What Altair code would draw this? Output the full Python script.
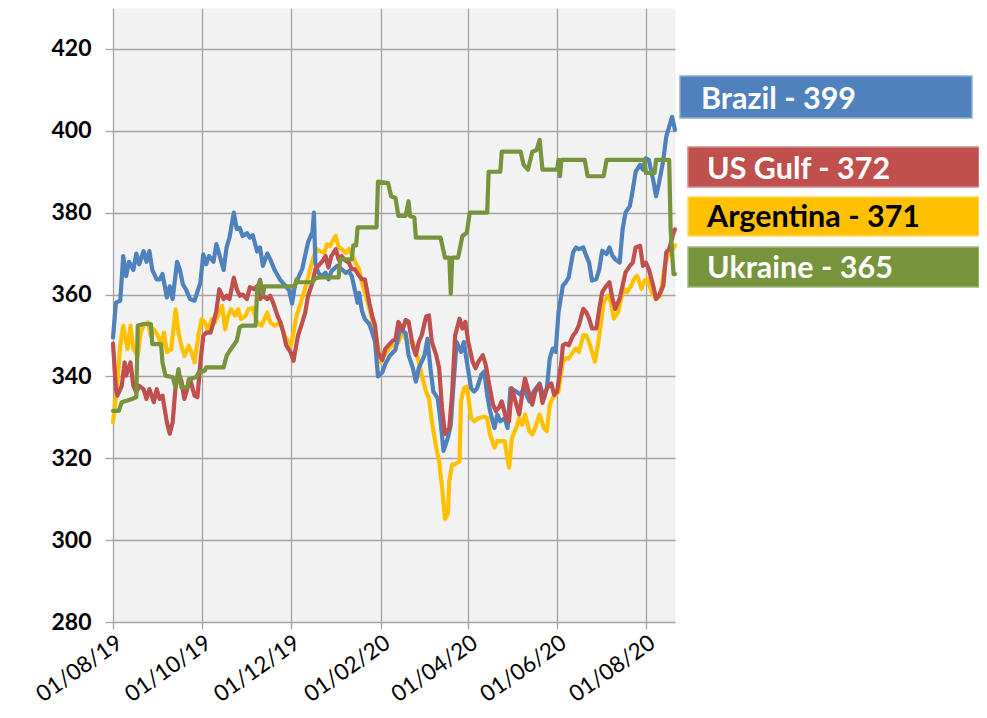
import altair as alt
import pandas as pd

START = "2019-08-01"

# ---- data: day offset from 01/08/2019 and price (USD/t) ----
brazil_days = [0, 2, 5, 7, 9, 11, 14, 16, 18, 21, 23, 25, 27, 30, 32, 34, 37, 39, 41, 44, 46, 48, 50, 53, 56,
               60, 62, 64, 66, 69, 71, 73, 76, 78, 80, 83, 85, 87, 89, 92, 94, 96, 99, 101, 103, 106, 108, 111,
               115, 118, 121, 123, 125, 127, 130, 132, 134, 137, 138, 139, 141, 143, 146, 148, 150, 154, 157,
               160, 162, 164, 166, 168, 169, 171, 173, 176, 178, 180, 182, 185, 187, 190, 194, 197, 201, 203,
               206, 208, 210, 214, 216, 218, 220, 223, 225, 227, 230, 232, 234, 236, 239, 241, 243, 246, 248,
               250, 253, 255, 257, 259, 262, 264, 266, 269, 271, 273, 277, 280, 282, 286, 289, 293, 296, 298,
               300, 302, 304, 306, 309, 311, 313, 316, 318, 320, 323, 325, 327, 329, 332, 334, 336, 339, 341,
               343, 345, 348, 350, 352, 355, 357, 359, 362, 364, 366, 368, 371, 373, 375, 378, 380, 382, 384, 386]
brazil_vals = [349.5, 358, 358.5, 369.4, 364.5, 368, 366, 370, 367.4, 370.6, 368, 370.6, 366, 363.7, 363.7, 365,
               359.3, 362, 358.9, 368, 366, 362.5, 361.3, 358.9, 358.5, 362.9, 369.8, 367.4, 369.4, 368, 372.3,
               369.8, 366, 371.5, 373.9, 380, 376, 376.3, 374.3, 375, 373.9, 374.5, 370.5, 371.5, 367, 370,
               368.6, 366, 363.5, 362.3, 361, 357.8, 362.3, 363.9, 366.3, 369.6, 372.8, 375.3, 380, 367.7,
               365.3, 364.5, 365.3, 363.7, 365.7, 367, 366.2, 365.3, 365.7, 364.5, 361.3, 358, 360.4, 356, 354,
               352.8, 350.8, 348.4, 340, 341, 343, 345, 346.5, 351.5, 350.6, 345.2, 342, 338.7, 342, 345.2,
               349.2, 342, 336.3, 334.7, 329, 321.8, 325, 328.2, 338.7, 348.4, 346, 348.4, 343.6, 337.1, 336.3,
               337.1, 340.4, 341.2, 335.5, 331.5, 327.4, 330.7, 329, 329.8, 327.4, 337.1, 336.3, 335.5, 337.1,
               333.9, 336.3, 338.3, 334.7, 337.1, 344.4, 346.8, 346, 355.7, 362.2, 363, 364.2, 370.3, 371.5,
               371.1, 371.5, 369.5, 367.8, 363.4, 363.8, 366.2, 370.7, 369.9, 371.5, 369.5, 368.6, 367.8, 375.9,
               380, 381.6, 385.6, 390, 391.7, 390.5, 393.3, 392.9, 388, 384, 387.2, 392.9, 398.6, 401, 403.4,
               400.2]

usgulf_days = [0, 2, 3, 6, 8, 9, 12, 14, 16, 18, 21, 23, 25, 28, 30, 32, 34, 37, 39, 41, 43, 45, 47, 49, 51, 53,
               56, 58, 60, 62, 64, 67, 69, 71, 73, 76, 78, 80, 83, 85, 87, 89, 92, 94, 97, 99, 101, 103, 106,
               108, 110, 113, 115, 117, 119, 122, 124, 125, 127, 130, 132, 134, 137, 139, 141, 144, 146, 148,
               150, 153, 155, 157, 160, 162, 164, 166, 169, 171, 173, 176, 178, 180, 182, 185, 187, 189, 192,
               194, 196, 199, 201, 203, 206, 208, 210, 212, 215, 217, 219, 222, 224, 226, 228, 231, 233, 235,
               238, 240, 242, 244, 247, 249, 251, 254, 256, 258, 261, 263, 265, 267, 270, 272, 274, 277, 279,
               281, 283, 286, 288, 290, 293, 295, 298, 301, 303, 305, 308, 309, 311, 313, 316, 318, 320, 323,
               325, 327, 329, 332, 334, 336, 339, 341, 343, 345, 348, 350, 352, 355, 357, 359, 362, 364, 366,
               368, 371, 373, 375, 378, 380, 382, 385, 386]
usgulf_vals = [348, 336.9, 335.3, 337.7, 343.4, 340.2, 343.4, 337.7, 336.1, 337.7, 336.9, 334.5, 336.9, 333.7,
               336.9, 334.5, 335.3, 328.8, 326, 328.8, 337.7, 340.6, 338.9, 334.5, 336.9, 339.3, 335.3, 334.9,
               343.4, 349.9, 350.7, 350.7, 353.2, 356, 361.3, 358.9, 359.7, 358.9, 364.1, 361.3, 359.7, 360,
               358.9, 361.8, 361.3, 362, 358.9, 359.7, 358.9, 359.7, 358, 354.8, 353.2, 350.7, 347.5, 345.9,
               343.8, 345.9, 349.9, 353.2, 355.6, 359.7, 362.9, 366.2, 367, 368.2, 369.4, 366.6, 369.4, 371.1,
               368.6, 369.4, 368.2, 367.8, 366.2, 366.2, 364.6, 363.7, 363.7, 358, 354.8, 352.4, 345.9, 344,
               346.7, 347.5, 348.7, 349, 353.3, 351.4, 353.8, 353.4, 347.3, 345.2, 348.4, 350, 354.6, 354.9,
               348.4, 345.2, 342, 332.3, 325.9, 327.4, 336.3, 350, 354.1, 351.7, 353.3, 348.4, 343.6, 342, 343.6,
               345.2, 342.8, 338.7, 333.1, 331.5, 332.3, 333.9, 329.8, 329, 337.1, 333.1, 330.7, 335.5, 339.5,
               335.5, 333.1, 336.3, 337.9, 333.5, 337.1, 338.3, 335.5, 336.3, 343.6, 347.6, 348, 347.6, 350,
               350.9, 352.5, 356.5, 355.7, 354.1, 351.7, 351.7, 356.5, 360.6, 362.2, 363, 359, 356.5, 359, 362.2,
               365.4, 367, 367.8, 371.5, 371.9, 367, 367.8, 366.2, 362.2, 358.9, 359.8, 362.2, 370.3, 371.1,
               375.1, 375.9]

argentina_days = [0, 2, 3, 5, 7, 9, 10, 12, 14, 17, 19, 21, 24, 26, 28, 31, 33, 35, 37, 40, 42, 43, 45, 47, 49,
                  52, 54, 56, 59, 61, 63, 65, 68, 70, 72, 75, 77, 79, 81, 84, 86, 88, 91, 93, 96, 99, 102, 106,
                  108, 111, 115, 118, 122, 124, 126, 129, 131, 133, 136, 138, 140, 142, 145, 147, 149, 152, 153,
                  155, 157, 160, 162, 164, 166, 169, 171, 175, 178, 181, 184, 186, 191, 194, 196, 199, 201, 203,
                  206, 208, 210, 212, 215, 217, 219, 222, 224, 226, 228, 230, 231, 233, 235, 238, 239, 241, 243,
                  246, 248, 251, 255, 257, 259, 262, 264, 266, 269, 272, 274, 277, 279, 281, 283, 286, 288, 290,
                  293, 296, 298, 300, 302, 304, 306, 309, 311, 313, 316, 318, 320, 323, 325, 327, 329, 331, 333,
                  335, 337, 340, 342, 344, 347, 349, 351, 353, 356, 358, 360, 363, 365, 367, 370, 373, 376, 379,
                  381, 383, 386]
argentina_vals = [328.8, 335.3, 338.5, 347.5, 352.4, 348.3, 346.7, 352.4, 346.7, 345, 350.7, 352.4, 353.2, 349.9,
                  351.5, 349.9, 347.5, 350.7, 345.9, 346.7, 353.2, 356.4, 350.7, 347.5, 345, 347.5, 345.9, 343.4,
                  350.7, 354, 353.2, 351.5, 354, 353.2, 354.8, 357.2, 351.5, 354.8, 356.4, 354.8, 356.4, 354,
                  354.8, 356.4, 356.8, 353.2, 352.4, 355.6, 353.2, 352.4, 353.2, 349.9, 347.5, 350.7, 354.8, 358,
                  360.4, 362.9, 366.9, 369.4, 371.1, 370.6, 370.2, 372.3, 371.8, 373.9, 374.3, 371.5, 371.1,
                  370.2, 371.1, 369.8, 368.2, 366.2, 362.9, 358, 354, 349.1, 343.4, 345, 347.5, 347.6, 348.4,
                  350.9, 349.2, 348.4, 348.4, 346, 343.6, 340.4, 336.3, 334.7, 329, 322.6, 319.3, 312.9, 305.2,
                  306.4, 314.5, 318.5, 318.5, 319.3, 333.9, 337.1, 337.5, 329.8, 329, 329.8, 330.2, 329.8, 325.8,
                  322.6, 324.2, 324.2, 324.2, 317.7, 325, 327.4, 329.8, 328.2, 330.7, 326.6, 325.8, 327.4, 330.7,
                  327.4, 326.6, 333.1, 334.7, 335.5, 336.3, 343.6, 344.4, 344.4, 346, 346.8, 346, 350, 350, 348.4,
                  346, 343.6, 347.6, 352.5, 358.1, 359.8, 358.1, 354.1, 355.7, 359, 361.4, 360.6, 362.2, 363.8,
                  364.6, 361.4, 363.4, 363.8, 360.6, 358.9, 359.8, 367, 369.5, 370, 372]

ukraine_days = [0, 4, 6, 10, 13, 16, 17, 21, 26, 27, 33, 34, 36, 41, 43, 45, 47, 51, 52, 57, 59, 63, 64, 76, 78,
                81, 85, 87, 89, 98, 99, 101, 103, 104, 125, 126, 128, 137, 139, 142, 155, 156, 164, 165, 167,
                168, 181, 182, 189, 191, 194, 196, 201, 203, 204, 207, 208, 225, 228, 231, 232, 233, 237, 240,
                243, 245, 257, 258, 266, 267, 280, 282, 285, 288, 291, 293, 295, 305, 306, 307, 308, 324, 326,
                337, 339, 365, 366, 372, 373, 382, 383, 385, 386]
ukraine_vals = [331.6, 331.6, 333.7, 334.1, 334.5, 334.9, 352.4, 352.8, 352.8, 347.9, 347.9, 343.4, 340.2, 339.8,
                337.3, 341.8, 337.3, 337.3, 339.3, 339.8, 341, 341.4, 342.2, 342.2, 345, 346.7, 348.7, 352,
                352.4, 352.4, 361.3, 363.6, 360, 362, 362, 363.7, 363, 363, 364, 364.2, 364.2, 368.6, 368.6,
                372, 372, 376.4, 376.4, 387.6, 387.2, 384, 383.6, 379.2, 379.2, 382.8, 379.2, 378.8, 373.9,
                373.9, 369, 369, 360.2, 369, 369, 374.3, 375.1, 380, 380, 390, 390, 394.9, 394.9, 391.7, 390.5,
                394.9, 395.3, 397.8, 390.5, 390.5, 392.9, 388.9, 392.9, 392.9, 388.9, 388.9, 392.9, 392.9,
                389.7, 389.7, 392.9, 392.9, 375.9, 365, 365]

label_texts = ["Brazil - 399", "US Gulf - 372", "Argentina - 371", "Ukraine - 365"]
tick_dates = [(2019, 8), (2019, 10), (2019, 12), (2020, 2), (2020, 4), (2020, 6), (2020, 8)]
y_ticks = [280, 300, 320, 340, 360, 380, 400, 420]

# ---- styling ----
COLORS = {"Brazil": "#4F81BD", "US Gulf": "#C0504D", "Argentina": "#FFC000", "Ukraine": "#77933C"}
FONT = "Lato"
W, H = 562, 614


def frame(days, vals):
    d = pd.Timestamp(START) + pd.to_timedelta(days, unit="D")
    return pd.DataFrame({"date": d.strftime("%Y-%m-%d"), "value": vals})


series = {
    "Brazil": frame(brazil_days, brazil_vals),
    "US Gulf": frame(usgulf_days, usgulf_vals),
    "Argentina": frame(argentina_days, argentina_vals),
    "Ukraine": frame(ukraine_days, ukraine_vals),
}

x_enc = alt.X(
    "date:T",
    scale=alt.Scale(type="utc",
                    domain=[alt.DateTime(year=2019, month=8, date=1, utc=True),
                            alt.DateTime(year=2020, month=8, date=21, utc=True)]),
    axis=alt.Axis(
        values=[alt.DateTime(year=y, month=m, date=1, utc=True) for y, m in tick_dates],
        format="%d/%m/%y", labelAngle=-35, labelAlign="right", labelBaseline="top",
        labelFontSize=22.5, labelPadding=2, tickSize=7, labelOverlap=False, title=None,
    ),
)
y_enc = alt.Y(
    "value:Q",
    scale=alt.Scale(domain=[280, 430], nice=False, zero=False),
    axis=alt.Axis(values=y_ticks, labelFontSize=23, labelFontWeight="bold", labelPadding=14,
                  tickSize=8, title=None),
)

layers = []
for name in ["Argentina", "Brazil", "US Gulf", "Ukraine"]:
    layers.append(
        alt.Chart(series[name]).mark_line(strokeWidth=4.2, strokeJoin="round", strokeCap="round",
                                          color=COLORS[name]).encode(x=x_enc, y=y_enc)
    )

# label boxes on the right (pixel layout relative to the plot origin)
box_layout = [
    # x, x2, y, y2, text x, text baseline y, fill, text colour, edge colour
    (567, 859, 68, 110, 588, 101, COLORS["Brazil"], "white", "#8EAED6"),
    (575, 866, 139, 179, 594, 171, COLORS["US Gulf"], "white", "#D68684"),
    (575, 866, 189, 228, 594, 219, COLORS["Argentina"], "black", "#FFD966"),
    (575, 866, 239, 279, 594, 270, COLORS["Ukraine"], "white", "#A3B97C"),
]
for txt, (bx, bx2, by, by2, tx, ty, fill, tcol, edge) in zip(label_texts, box_layout):
    d = pd.DataFrame({"label": [txt]})
    layers.append(
        alt.Chart(d).mark_rect(fill=fill, stroke=edge, strokeWidth=1.5).encode(
            x=alt.value(bx), x2=alt.value(bx2), y=alt.value(by), y2=alt.value(by2))
    )
    layers.append(
        alt.Chart(d).mark_text(align="left", baseline="alphabetic", font=FONT, fontSize=30.5,
                               fontWeight="bold", color=tcol).encode(
            text="label:N", x=alt.value(tx), y=alt.value(ty))
    )

chart = (
    alt.layer(*layers)
    .properties(width=W, height=H, autosize=alt.AutoSizeParams(type="none"),
                padding={"left": 105, "top": 0, "right": 304, "bottom": 84})
    .configure_view(fill="#F2F2F2", stroke="transparent")
    .configure_axis(gridColor="#A3A3A3", gridWidth=1.3, tickColor="#A3A3A3", tickWidth=1.3,
                    domain=False, labelFont=FONT, labelColor="black")
)

chart.save("out.html", embed_options={"renderer": "svg", "actions": False})
